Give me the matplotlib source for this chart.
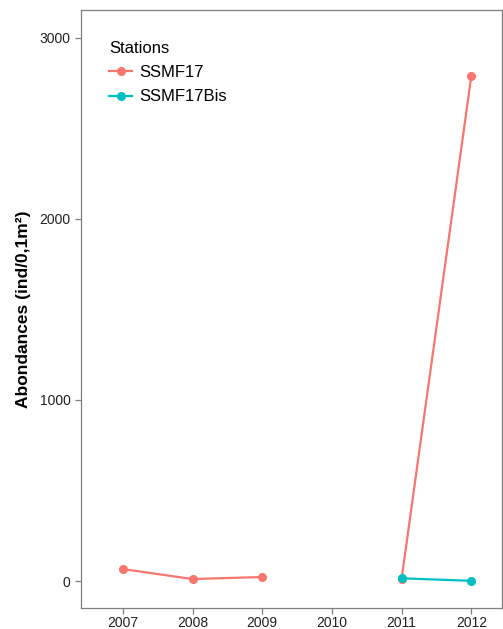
import numpy as np
import matplotlib.pyplot as plt

plt.rcParams['font.family'] = ['Liberation Sans', 'DejaVu Sans']

years = [2007, 2008, 2009, 2010, 2011, 2012]
ssmf17 = [66, 11, 22, np.nan, 13, 2790]
ssmf17bis_years = [2011, 2012]
ssmf17bis = [15, 1]

fig = plt.figure(figsize=(5.03, 6.29), dpi=100)
ax = fig.add_axes([0.161, 0.0334, 0.837, 0.951])

ax.plot(years, ssmf17, color='#F8766D', marker='o', markersize=5.5, lw=1.6, label='SSMF17')
ax.plot(ssmf17bis_years, ssmf17bis, color='#00BFC4', marker='o', markersize=5.5, lw=1.6, label='SSMF17Bis')

ax.set_xlim(2006.4, 2012.44)
ax.set_ylim(-149, 3155)
ax.set_xticks(years)
ax.set_yticks([0, 1000, 2000, 3000])
ax.tick_params(colors='#7f7f7f', labelcolor='#222222', labelsize=10, length=4, width=0.9)
ax.tick_params(axis='x', pad=2)
for s in ax.spines.values():
    s.set_color('#7f7f7f')
    s.set_linewidth(0.9)

ax.set_ylabel('Abondances (ind/0,1m²)', fontsize=12.5, fontweight='bold', labelpad=6)

leg = ax.legend(title='Stations', loc='upper left', bbox_to_anchor=(0.035, 0.97),
                frameon=False, fontsize=12, title_fontsize=12, handlelength=1.4,
                handletextpad=0.4, labelspacing=0.55, borderpad=0.3)
leg._legend_box.align = 'left'

fig.savefig('out.png', dpi=100)
